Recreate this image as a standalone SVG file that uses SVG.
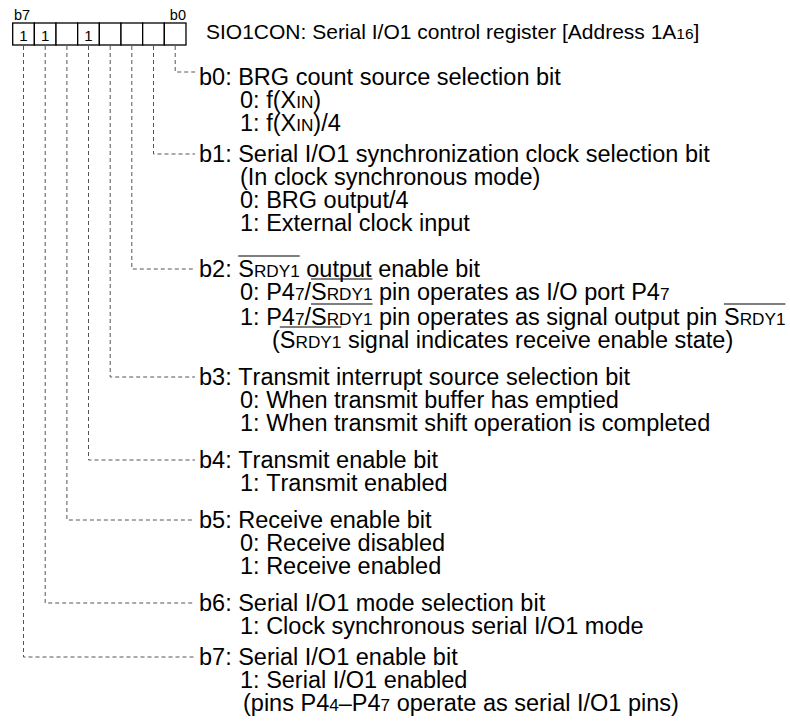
<svg xmlns="http://www.w3.org/2000/svg" width="790" height="725" viewBox="0 0 790 725">
<style>
text { font-family: "Liberation Sans", Arial, sans-serif; fill:#000; font-kerning:none; }
.t { font-size:23.5px; }
.s { font-size:17.2px; }
.ttl { font-size:21px; }
.lbl { font-size:14.5px; }
.dig { font-size:15px; text-anchor:middle; }
.box { fill:#fff; stroke:#000; stroke-width:1.3; }
.conn { fill:none; stroke:#555; stroke-width:1; stroke-dasharray:4 3; }
.ov { stroke:#000; stroke-width:1.2; }
</style>
<rect width="790" height="725" fill="#fff"/>
<g id="register">
<text class="lbl" x="14" y="20">b7</text>
<text class="lbl" x="186" y="20" text-anchor="end">b0</text>
<rect class="box" x="12.7" y="23" width="21.66" height="22"/>
<rect class="box" x="34.36" y="23" width="21.66" height="22"/>
<rect class="box" x="56.02" y="23" width="21.66" height="22"/>
<rect class="box" x="77.68" y="23" width="21.66" height="22"/>
<rect class="box" x="99.34" y="23" width="21.66" height="22"/>
<rect class="box" x="121" y="23" width="21.66" height="22"/>
<rect class="box" x="142.66" y="23" width="21.66" height="22"/>
<rect class="box" x="164.32" y="23" width="21.66" height="22"/>
<text class="dig" x="23.5" y="40.5">1</text>
<text class="dig" x="45.2" y="40.5">1</text>
<text class="dig" x="88.5" y="40.5">1</text>
<text class="ttl" x="206" y="39">SIO1CON: Serial I/O1 control register [Address 1A<tspan style="font-size:15.5px">16</tspan>]</text>
</g>
<g id="connectors">
<path class="conn" d="M175.2 46V72H195"/>
<path class="conn" d="M153.5 46V154H195"/>
<path class="conn" d="M131.8 46V269H195"/>
<path class="conn" d="M110.2 46V377H195"/>
<path class="conn" d="M88.5 46V460H195"/>
<path class="conn" d="M66.9 46V520H195"/>
<path class="conn" d="M45.2 46V603H195"/>
<path class="conn" d="M23.5 46V657H195"/>
</g>
<g id="bit0">
<text class="t" x="199" y="85">b0: BRG count source selection bit</text>
<text class="t" x="240" y="108">0: f(X<tspan class="s">IN</tspan>)</text>
<text class="t" x="240" y="131">1: f(X<tspan class="s">IN</tspan>)/4</text>
</g>
<g id="bit1">
<text class="t" x="199" y="162">b1: Serial I/O1 synchronization clock selection bit</text>
<text class="t" x="240" y="185">(In clock synchronous mode)</text>
<text class="t" x="240" y="208">0: BRG output/4</text>
<text class="t" x="240" y="231">1: External clock input</text>
</g>
<g id="bit2">
<text class="t" x="199" y="277">b2: S<tspan class="s">RDY1</tspan> output enable bit</text>
<text class="t" x="240" y="300">0: P4<tspan class="s">7</tspan>/S<tspan class="s">RDY1</tspan> pin operates as I/O port P4<tspan class="s">7</tspan></text>
<text class="t" x="240" y="325">1: P4<tspan class="s">7</tspan>/S<tspan class="s">RDY1</tspan> pin operates as signal output pin S<tspan class="s">RDY1</tspan></text>
<text class="t" x="272" y="348">(S<tspan class="s">RDY1</tspan> signal indicates receive enable state)</text>
<line class="ov" x1="238.2" y1="256" x2="299.7" y2="256"/>
<line class="ov" x1="311" y1="279" x2="372.5" y2="279"/>
<line class="ov" x1="311" y1="304" x2="372.5" y2="304"/>
<line class="ov" x1="723.9" y1="304" x2="785.4" y2="304"/>
<line class="ov" x1="279.8" y1="327" x2="341.4" y2="327"/>
</g>
<g id="bit3">
<text class="t" x="199" y="385">b3: Transmit interrupt source selection bit</text>
<text class="t" x="240" y="408">0: When transmit buffer has emptied</text>
<text class="t" x="240" y="431">1: When transmit shift operation is completed</text>
</g>
<g id="bit4">
<text class="t" x="199" y="468">b4: Transmit enable bit</text>
<text class="t" x="240" y="491">1: Transmit enabled</text>
</g>
<g id="bit5">
<text class="t" x="199" y="528">b5: Receive enable bit</text>
<text class="t" x="240" y="551">0: Receive disabled</text>
<text class="t" x="240" y="574">1: Receive enabled</text>
</g>
<g id="bit6">
<text class="t" x="199" y="611">b6: Serial I/O1 mode selection bit</text>
<text class="t" x="240" y="634">1: Clock synchronous serial I/O1 mode</text>
</g>
<g id="bit7">
<text class="t" x="199" y="665">b7: Serial I/O1 enable bit</text>
<text class="t" x="240" y="688">1: Serial I/O1 enabled</text>
<text class="t" x="243" y="711">(pins P4<tspan class="s">4</tspan>–P4<tspan class="s">7</tspan> operate as serial I/O1 pins)</text>
</g>
</svg>
